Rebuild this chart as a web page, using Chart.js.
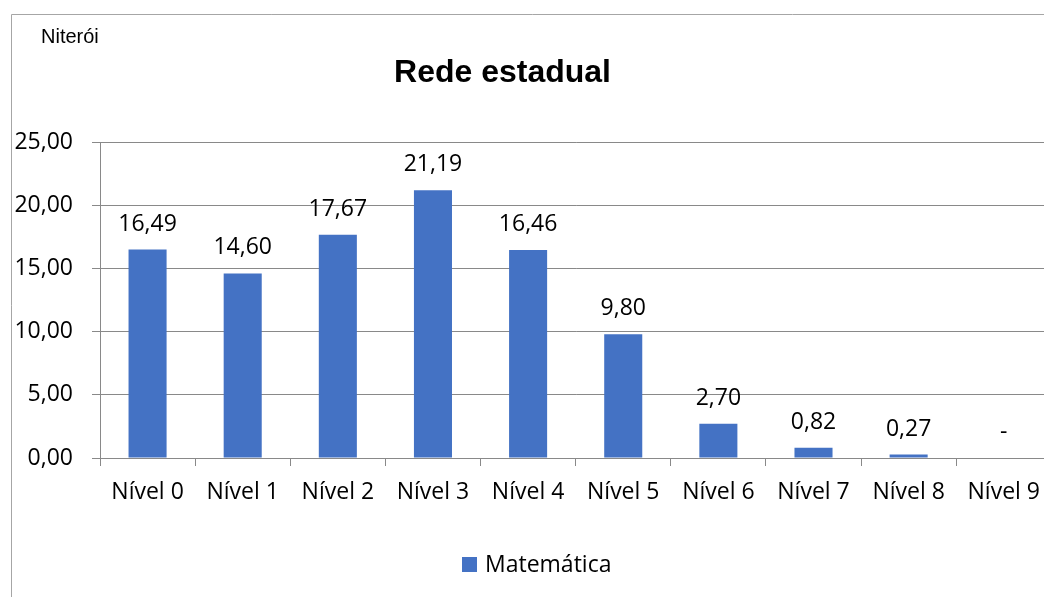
<!DOCTYPE html>
<html>
<head>
<meta charset="utf-8">
<script src="https://cdn.jsdelivr.net/npm/chart.js@4"></script>
<style>
html,body{margin:0;padding:0;overflow:hidden;background:#fff;width:1044px;height:597px;}
canvas{display:block;}
</style>
</head>
<body>
<canvas id="c" width="1053" height="597"></canvas>
<script>
const categories = ['Nível 0','Nível 1','Nível 2','Nível 3','Nível 4','Nível 5','Nível 6','Nível 7','Nível 8','Nível 9'];
const values = [16.49, 14.60, 17.67, 21.19, 16.46, 9.80, 2.70, 0.82, 0.27, 0];
const seriesName = 'Matemática';
const chartTitle = 'Rede estadual';
const subTitle = 'Niterói';

const fmt = v => v === 0 ? '-' : v.toFixed(2).replace('.', ',');
const BLUE = '#4472C4';
const GRID = '#898989';

const overlay = {
  id: 'overlay',
  beforeDraw(chart) {
    const ctx = chart.ctx;
    ctx.save();
    ctx.fillStyle = '#fff';
    ctx.fillRect(0, 0, chart.width, chart.height);
    ctx.strokeStyle = '#a6a6a6';
    ctx.lineWidth = 1;
    ctx.beginPath();
    ctx.moveTo(11.5, chart.height);
    ctx.lineTo(11.5, 14.5);
    ctx.lineTo(chart.width, 14.5);
    ctx.stroke();
    ctx.restore();
  },
  afterDraw(chart) {
    const ctx = chart.ctx;
    ctx.save();
    ctx.fillStyle = '#000';
    ctx.textBaseline = 'alphabetic';
    ctx.textAlign = 'left';
    ctx.font = '20px "Liberation Sans", Arial, sans-serif';
    ctx.fillText(subTitle, 41, 43);
    ctx.textAlign = 'center';
    ctx.font = 'bold 32px "Liberation Sans", Arial, sans-serif';
    ctx.fillText(chartTitle, 502.5, 82);
    ctx.font = '23px "Open Sans"';
    const meta = chart.getDatasetMeta(0);
    meta.data.forEach((bar, i) => {
      ctx.fillText(fmt(values[i]), bar.x, bar.y - 19);
    });
    ctx.fillStyle = BLUE;
    ctx.fillRect(462, 557, 15, 15);
    ctx.fillStyle = '#000';
    ctx.textAlign = 'left';
    ctx.fillText(seriesName, 485, 572);
    ctx.restore();
  }
};

Chart.defaults.font.family = '"Open Sans", sans-serif';
Chart.defaults.font.size = 23;
Chart.defaults.color = '#000';

new Chart(document.getElementById('c'), {
  type: 'bar',
  data: {
    labels: categories,
    datasets: [{
      label: seriesName,
      data: values,
      backgroundColor: BLUE,
      borderWidth: 0,
      barPercentage: 0.4,
      categoryPercentage: 1.0
    }]
  },
  options: {
    responsive: false,
    animation: false,
    layout: { padding: { top: 142, left: 0, right: 0, bottom: 0 } },
    plugins: {
      legend: { display: false },
      title: { display: false },
      tooltip: { enabled: false }
    },
    scales: {
      x: {
        grid: { drawOnChartArea: false, drawTicks: true, tickLength: 8, color: GRID, offset: true },
        border: { color: GRID, width: 1 },
        ticks: { autoSkip: false, maxRotation: 0, padding: 13, font: { size: 23 } },
        afterFit(s) { s.height = 597 - 458; }
      },
      y: {
        min: 0, max: 25,
        grid: { color: GRID, tickLength: 8, drawTicks: true },
        border: { color: GRID, width: 1 },
        ticks: { stepSize: 5, padding: 19, font: { size: 23 }, callback: v => v.toFixed(2).replace('.', ',') },
        afterFit(s) { s.width = 100; }
      }
    }
  },
  plugins: [overlay]
});
</script>
</body>
</html>
